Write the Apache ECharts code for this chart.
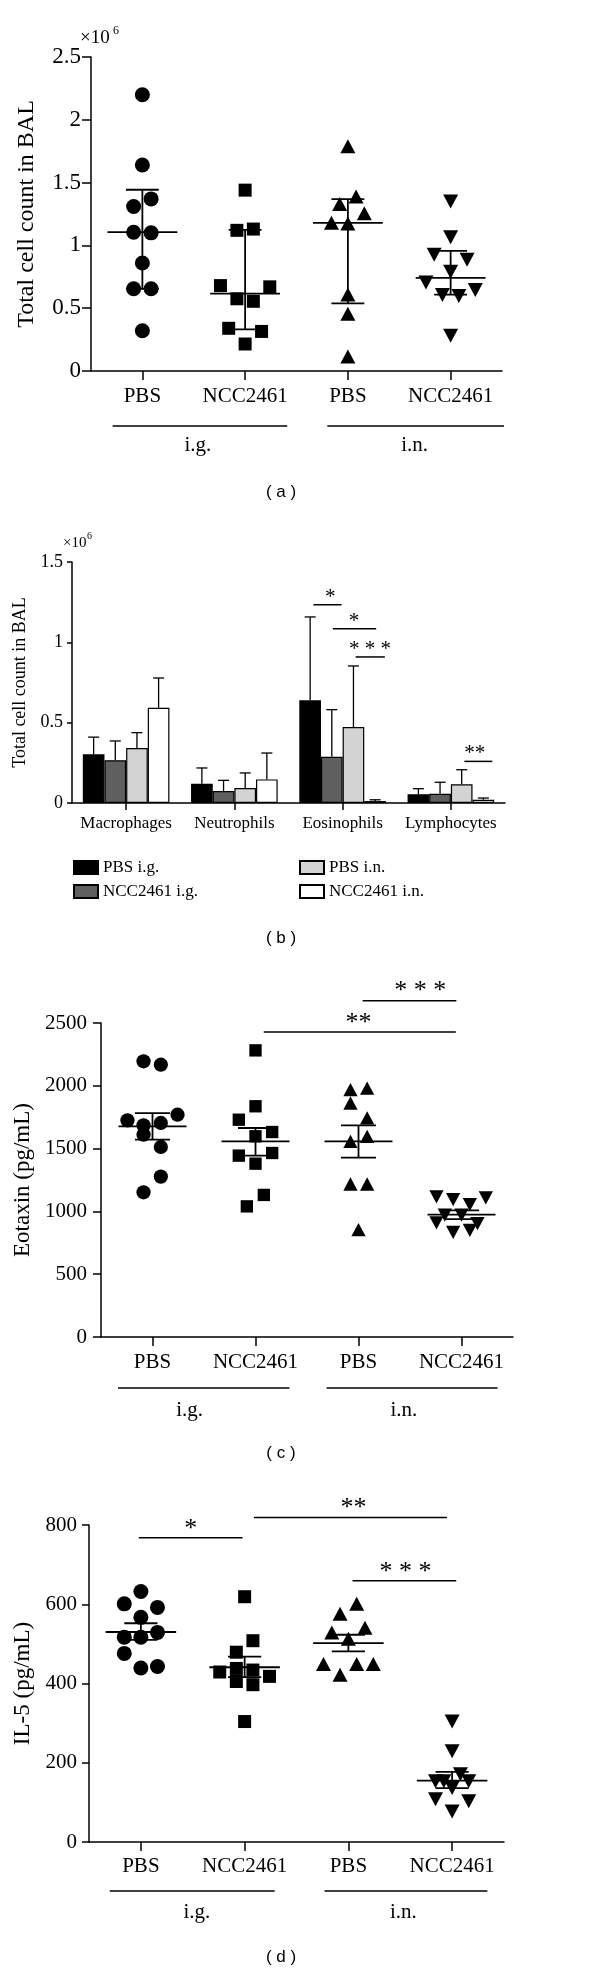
<!DOCTYPE html>
<html><head><meta charset="utf-8">
<script src="https://cdn.jsdelivr.net/npm/echarts@6/dist/echarts.min.js"></script>
<style>html,body{margin:0;padding:0;background:#fff}#c{width:600px;height:1973px}</style>
</head><body><div id="c"></div>
<script>
// ---------- DATA ----------
const groupLabels = ['PBS', 'NCC2461', 'PBS', 'NCC2461'];
const routeNames = ['i.g.', 'i.n.'];

// (a) total cell count in BAL (x10^6)
const aValues = [
  [2.20, 1.64, 1.31, 1.37, 1.105, 1.10, 0.86, 0.655, 0.655, 0.32],
  [1.44, 1.12, 1.13, 0.68, 0.67, 0.575, 0.555, 0.34, 0.315, 0.215],
  [1.79, 1.33, 1.39, 1.255, 1.18, 1.175, 0.61, 0.455, 0.115],
  [1.35, 1.065, 0.925, 0.885, 0.79, 0.705, 0.645, 0.605, 0.598, 0.28]
];
const aJitter = [
  [0, 0, -0.085, 0.085, -0.085, 0.085, 0, -0.085, 0.085, 0],
  [0, -0.08, 0.08, -0.24, 0.24, -0.08, 0.08, -0.16, 0.16, 0],
  [0, -0.08, 0.08, 0.16, -0.16, 0, 0, 0, 0],
  [0, 0, -0.16, 0.16, 0, -0.24, 0.24, -0.08, 0.08, 0]
];
const aSummary = [[1.105, 0.655, 1.443], [0.616, 0.332, 1.124], [1.18, 0.539, 1.368], [0.741, 0.608, 0.956]];
const aSig = [];

// (b) differential cell counts (x10^6)
const cellTypes = ['Macrophages', 'Neutrophils', 'Eosinophils', 'Lymphocytes'];
const bSeriesNames = ['PBS i.g.', 'NCC2461 i.g.', 'PBS i.n.', 'NCC2461 i.n.'];
const bMeans = [
  [0.303, 0.120, 0.639, 0.054],
  [0.266, 0.075, 0.288, 0.058],
  [0.342, 0.093, 0.473, 0.116],
  [0.593, 0.147, 0.012, 0.020]
];
const bErrTop = [
  [0.410, 0.218, 1.158, 0.089],
  [0.386, 0.141, 0.581, 0.129],
  [0.438, 0.187, 0.853, 0.207],
  [0.778, 0.311, 0.020, 0.031]
];
// [x1, x2, y, label, labelX]  (x in category-band units, 0..4)
const bSig = [
  [2.23, 2.49, 1.234, '*', 2.385],
  [2.41, 2.81, 1.085, '*', 2.606],
  [2.62, 2.89, 0.909, '* * *', 2.754],
  [3.625, 3.883, 0.259, '**', 3.72]
];

// (c) Eotaxin (pg/mL)
const cValues = [
  [2195, 2168, 1725, 1770, 1685, 1704, 1611, 1513, 1277, 1152],
  [2282, 1837, 1730, 1632, 1598, 1444, 1465, 1380, 1131, 1040],
  [1969, 1982, 1863, 1744, 1558, 1598, 1218, 1218, 855],
  [1115, 1093, 1054, 1107, 971, 971, 908, 902, 833, 849]
];
const cJitter = [
  [-0.087, 0.081, -0.243, 0.243, -0.087, 0.081, -0.087, 0.081, 0.081, -0.087],
  [0, 0, -0.162, 0.162, 0, -0.162, 0.162, 0, 0.081, -0.084],
  [-0.078, 0.084, -0.078, 0.084, -0.078, 0.084, -0.078, 0.084, 0],
  [-0.243, -0.081, 0.081, 0.236, -0.162, 0, -0.243, 0.155, -0.081, 0.081]
];
const cSummary = [[1677, 1571, 1783], [1558, 1444, 1664], [1558, 1428, 1685], [974, 939, 1008]];
const cSig = [
  [2.08, 3.945, 2428, '**', 3.0],
  [3.04, 3.95, 2678, '* * *', 3.6]
];

// (d) IL-5 (pg/mL)
const dValues = [
  [632, 601, 592, 567, 517, 517, 529, 476, 439, 443],
  [619, 508, 479, 429, 438, 434, 418, 405, 397, 304],
  [601, 576, 529, 541, 513, 449, 449, 449, 422],
  [304, 229, 171, 153, 153, 153, 136, 108, 103, 77]
];
const dJitter = [
  [0, -0.16, 0.16, 0, -0.16, 0, 0.16, -0.16, 0, 0.16],
  [0, 0.08, -0.08, -0.24, -0.08, 0.08, 0.24, -0.08, 0.08, 0],
  [0.08, -0.08, -0.16, 0.16, 0, -0.24, 0.08, 0.24, -0.08],
  [0, 0, 0.08, -0.16, -0.08, 0.16, 0, -0.16, 0.16, 0]
];
const dSummary = [[530, 510, 552], [441, 416, 468], [502, 481, 523], [155, 136, 177]];
const dSig = [
  [0.98, 1.98, 768, '*', 1.48],
  [2.09, 3.95, 819, '**', 3.05],
  [3.04, 4.04, 659, '* * *', 3.55]
];

// ---------- STYLE / LAYOUT ----------
const SERIF = '"Liberation Serif", "Times New Roman", serif';
const SANS = '"Liberation Sans", Arial, sans-serif';
const groupSymbols = [
  { symbol: 'circle', size: 15, rotate: 0 },
  { symbol: 'rect', size: 13, rotate: 0 },
  { symbol: 'triangle', size: [15, 14], rotate: 0 },
  { symbol: 'triangle', size: [15, 14], rotate: 180 }
];

const scatterPanels = [
  { grid: 0, rect: { left: 91, top: 57, width: 411, height: 314 }, yMax: 2.5, yInt: 0.5,
    yName: 'Total cell count in BAL', nameSize: 24, nameGap: 52, labelSize: 21, yLabelSize: 23, yMargin: 10,
    yTick: 9, xTick: 9, xMargin: 15, values: aValues, jitter: aJitter, summary: aSummary, sig: aSig,
    symScale: 1, meanHalf: 0.34, capHalf: 0.16, routeSpans: [[0.71, 2.41], [2.80, 4.52]],
    routeLabelX: [1.54, 3.65], routeLineOff: 55, routeLabelOff: 74, starSize: 26, starLift: 9 },
  { grid: 2, rect: { left: 101, top: 1023, width: 412, height: 314 }, yMax: 2500, yInt: 500,
    yName: 'Eotaxin (pg/mL)', nameSize: 23, nameGap: 62, labelSize: 21, yLabelSize: 21, yMargin: 14,
    yTick: 8, xTick: 9, xMargin: 15, values: cValues, jitter: cJitter, summary: cSummary, sig: cSig,
    symScale: 0.95, meanHalf: 0.33, capHalf: 0.17, routeSpans: [[0.665, 2.33], [2.69, 4.35]],
    routeLabelX: [1.36, 3.44], routeLineOff: 51, routeLabelOff: 73, starSize: 26, starLift: 9 },
  { grid: 3, rect: { left: 89, top: 1525, width: 415, height: 317 }, yMax: 800, yInt: 200,
    yName: 'IL-5 (pg/mL)', nameSize: 23, nameGap: 50, labelSize: 21, yLabelSize: 21, yMargin: 12,
    yTick: 7, xTick: 9, xMargin: 14, values: dValues, jitter: dJitter, summary: dSummary, sig: dSig,
    symScale: 1, meanHalf: 0.34, capHalf: 0.16, routeSpans: [[0.70, 2.29], [2.77, 4.34]],
    routeLabelX: [1.54, 3.53], routeLineOff: 49, routeLabelOff: 70, starSize: 26, starLift: 9 }
];
const barPanel = { grid: 1, rect: { left: 72, top: 562, width: 433, height: 241 }, yMax: 1.5, yInt: 0.5,
  yName: 'Total cell count in BAL', nameSize: 18, nameGap: 38, labelSize: 17, yLabelSize: 18, yMargin: 9,
  yTick: 5, xTick: 7, xMargin: 12, starSize: 21, starLift: 7.5 };
const barColors = ['#000000', '#5f5f5f', '#d3d3d3', '#ffffff'];

const AX = { color: '#000', width: 1.5 };

// ---------- HELPERS ----------
function yAxisFor(p) {
  return {
    gridIndex: p.grid, type: 'value', min: 0, max: p.yMax, interval: p.yInt,
    name: p.yName, nameLocation: 'middle', nameRotate: 90, nameGap: p.nameGap,
    nameTextStyle: { fontFamily: SERIF, fontSize: p.nameSize, color: '#000' },
    axisLine: { show: true, onZero: false, lineStyle: AX },
    axisTick: { show: true, length: p.yTick, lineStyle: AX },
    axisLabel: { fontFamily: SERIF, fontSize: p.yLabelSize, color: '#000', margin: p.yMargin,
      formatter: v => String(Math.round(v * 1000) / 1000) },
    splitLine: { show: false }
  };
}
function catAxisFor(p, cats) {
  return {
    gridIndex: p.grid, type: 'category', data: cats, position: 'bottom',
    axisLine: { show: true, onZero: false, lineStyle: AX },
    axisTick: { show: true, alignWithLabel: true, length: p.xTick, lineStyle: AX },
    axisLabel: { fontFamily: SERIF, fontSize: p.labelSize, color: '#000', margin: p.xMargin, interval: 0 },
    splitLine: { show: false }
  };
}
function hiddenValueAxis(p, min, max) {
  return { gridIndex: p.grid, type: 'value', min: min, max: max, show: false,
    axisLine: { onZero: false }, splitLine: { show: false } };
}
function summaryRenderer(meanHalf, capHalf) {
  return function (params, api) {
    const x = api.value(0);
    const pc = api.coord([x, api.value(1)]);
    const pl = api.coord([x, api.value(2)]);
    const ph = api.coord([x, api.value(3)]);
    const u = api.size([1, 0])[0];
    const st = { stroke: '#000', lineWidth: 1.8 };
    return { type: 'group', children: [
      { type: 'line', shape: { x1: pc[0] - meanHalf * u, y1: pc[1], x2: pc[0] + meanHalf * u, y2: pc[1] }, style: st },
      { type: 'line', shape: { x1: pl[0], y1: pl[1], x2: ph[0], y2: ph[1] }, style: st },
      { type: 'line', shape: { x1: pl[0] - capHalf * u, y1: pl[1], x2: pl[0] + capHalf * u, y2: pl[1] }, style: st },
      { type: 'line', shape: { x1: ph[0] - capHalf * u, y1: ph[1], x2: ph[0] + capHalf * u, y2: ph[1] }, style: st }
    ] };
  };
}
function sigRenderer(sigs, fontSize, lift) {
  return function (params, api) {
    const s = sigs[params.dataIndex];
    const p1 = api.coord([s[0], s[2]]);
    const p2 = api.coord([s[1], s[2]]);
    const tx = api.coord([s[4], s[2]])[0];
    return { type: 'group', children: [
      { type: 'line', shape: { x1: p1[0], y1: p1[1], x2: p2[0], y2: p2[1] }, style: { stroke: '#000', lineWidth: 1.5 } },
      { type: 'text', style: { text: s[3], x: tx, y: p1[1] - lift, align: 'center', verticalAlign: 'middle',
        font: fontSize + 'px ' + SERIF, fill: '#000' } }
    ] };
  };
}
function routeRenderer(p) {
  return function (params, api) {
    const i = params.dataIndex;
    const s = p.routeSpans[i];
    const a = api.coord([s[0], 0]);
    const b = api.coord([s[1], 0]);
    const lx = api.coord([p.routeLabelX[i], 0])[0];
    const y0 = a[1];
    return { type: 'group', children: [
      { type: 'line', shape: { x1: a[0], y1: y0 + p.routeLineOff, x2: b[0], y2: y0 + p.routeLineOff }, style: { stroke: '#000', lineWidth: 1.5 } },
      { type: 'text', style: { text: routeNames[i], x: lx, y: y0 + p.routeLabelOff, align: 'center', verticalAlign: 'middle',
        font: p.labelSize + 'px ' + SERIF, fill: '#000' } }
    ] };
  };
}

// ---------- BUILD OPTION ----------
const grids = [];
const xAxes = [];
const yAxes = [];
const series = [];

const allPanels = [scatterPanels[0], barPanel, scatterPanels[1], scatterPanels[2]];
allPanels.forEach(p => grids.push(Object.assign({ containLabel: false }, p.rect)));
allPanels.forEach(p => yAxes.push(yAxisFor(p)));
allPanels.forEach(p => {
  if (p === barPanel) {
    xAxes.push(catAxisFor(p, cellTypes));
    xAxes.push(hiddenValueAxis(p, 0, 4));
  } else {
    xAxes.push(catAxisFor(p, groupLabels));
    xAxes.push(hiddenValueAxis(p, 0.5, 4.5));
  }
});

scatterPanels.forEach(p => {
  const g = p.grid;
  p.values.forEach((vals, i) => {
    const sym = groupSymbols[i];
    const size = Array.isArray(sym.size) ? sym.size.map(s => s * p.symScale) : sym.size * p.symScale;
    series.push({
      type: 'scatter', xAxisIndex: 2 * g + 1, yAxisIndex: g,
      symbol: sym.symbol, symbolSize: size, symbolRotate: sym.rotate,
      itemStyle: { color: '#000', opacity: 1 }, silent: true, z: 2,
      data: vals.map((v, k) => [i + 1 + p.jitter[i][k], v])
    });
  });
  series.push({
    type: 'custom', xAxisIndex: 2 * g + 1, yAxisIndex: g, z: 3, silent: true,
    renderItem: summaryRenderer(p.meanHalf, p.capHalf),
    encode: { x: 0, y: [1, 2, 3] },
    data: p.summary.map((s, i) => [i + 1, s[0], s[1], s[2]])
  });
  if (p.sig.length) {
    series.push({
      type: 'custom', xAxisIndex: 2 * g + 1, yAxisIndex: g, z: 3, silent: true,
      renderItem: sigRenderer(p.sig, p.starSize, p.starLift),
      encode: { x: [0, 1], y: 2 },
      data: p.sig.map(s => [s[0], s[1], s[2]])
    });
  }
  series.push({
    type: 'custom', xAxisIndex: 2 * g + 1, yAxisIndex: g, z: 3, silent: true, clip: false,
    renderItem: routeRenderer(p),
    encode: { x: [0, 1], y: 2 },
    data: p.routeSpans.map(s => [s[0], s[1], 0])
  });
});

bSeriesNames.forEach((name, j) => {
  series.push({
    type: 'bar', name: name, xAxisIndex: 2, yAxisIndex: 1,
    barCategoryGap: '20%', barGap: '0%', silent: true,
    itemStyle: { color: barColors[j], borderColor: '#000', borderWidth: 1.2 },
    data: bMeans[j]
  });
});
const errData = [];
bMeans.forEach((row, j) => row.forEach((m, i) => errData.push([i + 0.2 + 0.2 * j, m, bErrTop[j][i]])));
series.push({
  type: 'custom', xAxisIndex: 3, yAxisIndex: 1, z: 3, silent: true,
  encode: { x: 0, y: [1, 2] },
  renderItem: function (params, api) {
    const x = api.value(0);
    const pm = api.coord([x, api.value(1)]);
    const pt = api.coord([x, api.value(2)]);
    const cap = 0.051 * api.size([1, 0])[0];
    const st = { stroke: '#000', lineWidth: 1.3 };
    return { type: 'group', children: [
      { type: 'line', shape: { x1: pm[0], y1: pm[1], x2: pt[0], y2: pt[1] }, style: st },
      { type: 'line', shape: { x1: pt[0] - cap, y1: pt[1], x2: pt[0] + cap, y2: pt[1] }, style: st }
    ] };
  },
  data: errData
});
series.push({
  type: 'custom', xAxisIndex: 3, yAxisIndex: 1, z: 3, silent: true,
  renderItem: sigRenderer(bSig, barPanel.starSize, barPanel.starLift),
  encode: { x: [0, 1], y: 2 },
  data: bSig.map(s => [s[0], s[1], s[2]])
});

const legendBase = {
  orient: 'vertical', itemWidth: 24, itemHeight: 13, itemGap: 7, icon: 'rect', padding: 0,
  selectedMode: false, top: 859,
  textStyle: { fontFamily: SERIF, fontSize: 17, color: '#000' }
};

const txt = (text, x, y, font, align) => ({ type: 'text', x: x, y: y, silent: true,
  style: { text: text, font: font, fill: '#000', align: align || 'left', verticalAlign: 'middle' } });

const option = {
  animation: false,
  backgroundColor: '#fff',
  grid: grids,
  xAxis: xAxes,
  yAxis: yAxes,
  legend: [
    Object.assign({}, legendBase, { left: 73, data: bSeriesNames.slice(0, 2) }),
    Object.assign({}, legendBase, { left: 299, data: bSeriesNames.slice(2, 4) })
  ],
  graphic: [
    txt('×10', 80, 38, '19px ' + SERIF),
    txt('6', 113, 31, '12px ' + SERIF),
    txt('×10', 63, 543, '15px ' + SERIF),
    txt('6', 87, 536, '10px ' + SERIF),
    txt('( a )', 281, 492, '17px ' + SANS, 'center'),
    txt('( b )', 281, 938, '17px ' + SANS, 'center'),
    txt('( c )', 281, 1453, '17px ' + SANS, 'center'),
    txt('( d )', 281, 1957, '17px ' + SANS, 'center')
  ],
  series: series
};

const chart = echarts.init(document.getElementById('c'), null, { renderer: 'canvas', width: 600, height: 1973 });
chart.setOption(option);
</script>
</body></html>
